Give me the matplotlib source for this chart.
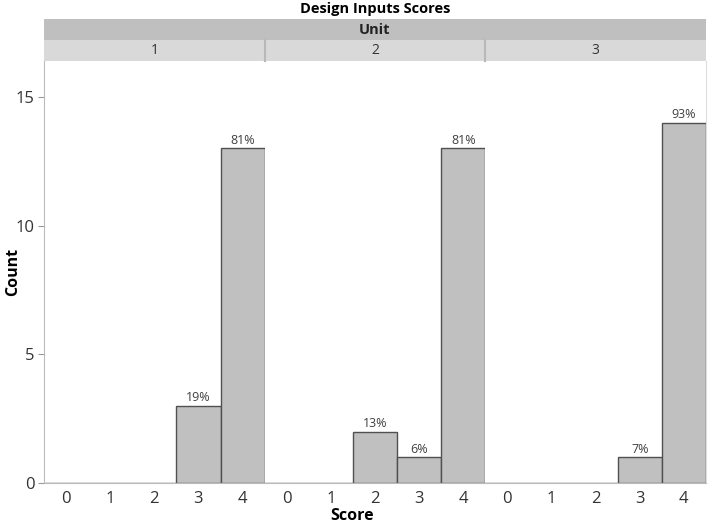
import matplotlib
matplotlib.use('Agg')
import matplotlib.pyplot as plt
from matplotlib.patches import Rectangle

plt.rcParams['font.family'] = ['Open Sans', 'DejaVu Sans']

# data
units = ['1', '2', '3']
scores = [0, 1, 2, 3, 4]
counts = {
    '1': [0, 0, 0, 3, 13],
    '2': [0, 0, 2, 1, 13],
    '3': [0, 0, 0, 1, 14],
}
pct_labels = {
    '1': ['', '', '', '19%', '81%'],
    '2': ['', '', '13%', '6%', '81%'],
    '3': ['', '', '', '7%', '93%'],
}

W, H = 708, 524
fig = plt.figure(figsize=(W / 100, H / 100), dpi=100)

left_px, right_px = 44, 706
top_px, bot_px = 61, 483
panel_w = (right_px - left_px) / 3


def fx(px):
    return px / W


def fy(py):
    return 1 - py / H


for i, u in enumerate(units):
    x0 = left_px + i * panel_w
    ax = fig.add_axes([fx(x0), fy(bot_px), panel_w / W, (bot_px - top_px) / H])
    ax.bar(scores, counts[u], width=1.0, color='#c0c0c0',
           edgecolor='#505050', linewidth=1.0, zorder=2)
    for s, c, lab in zip(scores, counts[u], pct_labels[u]):
        if lab:
            ax.text(s, c + 0.06, lab, ha='center', va='bottom',
                    fontsize=9, color='#404040')
    ax.set_xlim(-0.5, 4.5)
    ax.set_ylim(0, 16.4)
    ax.set_xticks(scores)
    ax.tick_params(axis='x', length=0, labelsize=12, labelcolor='#333333', pad=6)
    for sp in ['top', 'right', 'left']:
        ax.spines[sp].set_visible(False)
    ax.spines['bottom'].set_color('#bbbbbb')
    if i == 0:
        ax.spines['left'].set_visible(True)
        ax.spines['left'].set_color('#bbbbbb')
        ax.set_yticks([0, 5, 10, 15])
        ax.tick_params(axis='y', length=4, color='#999999', labelsize=12,
                       labelcolor='#333333', pad=3)
    else:
        ax.set_yticks([])
    if i == 2:
        ax.spines['right'].set_visible(True)
        ax.spines['right'].set_color('#dddddd')

# facet headers
fig.patches.append(Rectangle((fx(left_px), fy(40)), (right_px - left_px) / W,
                             21 / H, transform=fig.transFigure,
                             facecolor='#bfbfbf', edgecolor='none'))
fig.text(fx((left_px + right_px) / 2), fy(30), 'Unit', ha='center', va='center',
         fontsize=10.5, fontweight='bold', color='#222222')
for i, u in enumerate(units):
    x0 = left_px + i * panel_w
    fig.patches.append(Rectangle((fx(x0), fy(61)), panel_w / W, 21 / H,
                                 transform=fig.transFigure,
                                 facecolor='#d9d9d9', edgecolor='none'))
    fig.text(fx(x0 + panel_w / 2), fy(50.5), u, ha='center', va='center',
             fontsize=10, color='#333333')
    if i > 0:
        fig.lines.append(plt.Line2D([fx(x0), fx(x0)], [fy(61), fy(40)],
                                    transform=fig.transFigure,
                                    color='#b8b8b8', linewidth=1.5))

fig.text(fx((left_px + right_px) / 2), fy(9), 'Design Inputs Scores',
         ha='center', va='center', fontsize=10.5, fontweight='bold')
fig.text(fx(352), fy(516), 'Score', ha='center', va='center',
         fontsize=11.5, fontweight='bold')
fig.text(fx(13), fy(272), 'Count', ha='center', va='center', rotation=90,
         fontsize=11.5, fontweight='bold')

fig.savefig('out.png', dpi=100)
